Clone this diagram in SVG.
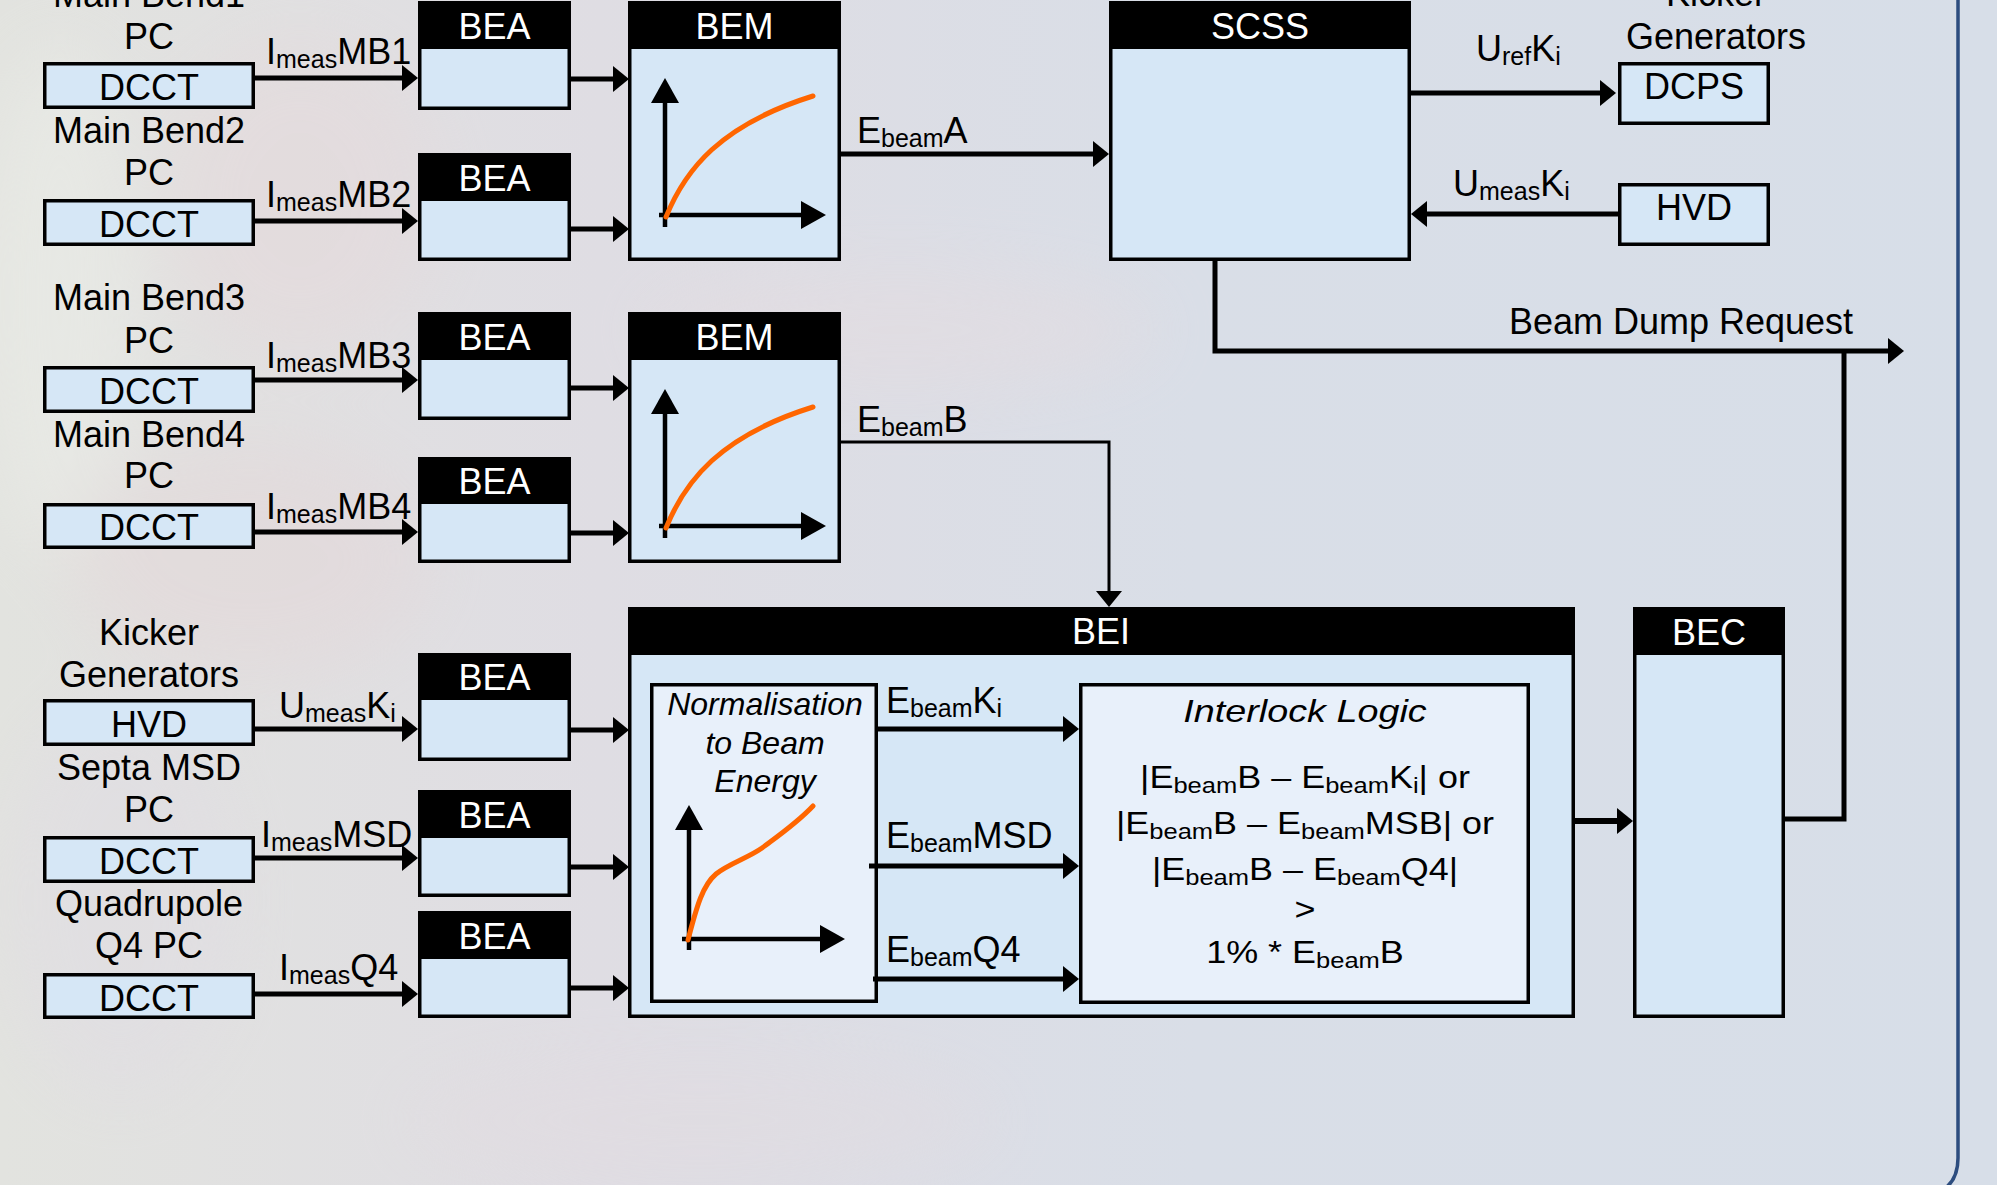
<svg xmlns="http://www.w3.org/2000/svg" width="1997" height="1185" viewBox="0 0 1997 1185">
<style>
text{font-family:"Liberation Sans",Arial,sans-serif;fill:#000}
.t{font-size:36px}
.c{text-anchor:middle}
.hd{fill:#fff;font-size:36px;text-anchor:middle}
.sub{font-size:25px}
.isub{font-size:22px}
.it{font-style:italic}
.box{fill:#d6e7f6;stroke:#000;stroke-width:3.5}
.inner{fill:#e8f0fa;stroke:#000;stroke-width:3.5}
.head{fill:#000}
.ax{fill:none;stroke:#000;stroke-width:4.5;marker-end:url(#ax)}
.curve{fill:none;stroke:#ff6600;stroke-width:5;stroke-linecap:round}
.cn{fill:none;stroke:#000;stroke-width:5;marker-end:url(#ah)}
.cn3{fill:none;stroke:#000;stroke-width:3;marker-end:url(#ah)}
.ln{fill:none;stroke:#000;stroke-width:5}
</style>
<defs>
<marker id="ah" viewBox="0 0 16 26" refX="6" refY="13" markerWidth="16" markerHeight="26" markerUnits="userSpaceOnUse" orient="auto"><path d="M0,0 L16,13 L0,26 z" fill="#000"/></marker>
<marker id="ax" viewBox="0 0 25 28" refX="10" refY="14" markerWidth="25" markerHeight="28" markerUnits="userSpaceOnUse" orient="auto"><path d="M0,0 L25,14 L0,28 z" fill="#000"/></marker>
<linearGradient id="bg" x1="0" x2="1" y1="0" y2="0">
<stop offset="0" stop-color="#e2e3df"/>
<stop offset="0.3" stop-color="#dfdde3"/>
<stop offset="0.6" stop-color="#d9dee7"/>
<stop offset="1" stop-color="#d7dee8"/>
</linearGradient>
<filter id="blur" x="-50%" y="-50%" width="200%" height="200%"><feGaussianBlur stdDeviation="35"/></filter>
</defs>

<rect width="1997" height="1185" fill="url(#bg)"/>
<g filter="url(#blur)" opacity="0.45">
<ellipse cx="60" cy="300" rx="80" ry="260" fill="#eef0ea"/>
<ellipse cx="300" cy="200" rx="140" ry="160" fill="#e6d8da"/>
<ellipse cx="250" cy="560" rx="180" ry="120" fill="#e4d6d8"/>
<ellipse cx="900" cy="330" rx="260" ry="60" fill="#e6dcdf"/>
<ellipse cx="120" cy="900" rx="120" ry="200" fill="#e0dce4"/>
<ellipse cx="700" cy="1120" rx="300" ry="60" fill="#e2dbe0"/>
</g>

<path d="M1958,0 V1158 Q1958,1186 1934,1194" fill="none" stroke="#2d4d7f" stroke-width="3.5"/>

<!-- left source labels -->
<g id="labels-left">
<text class="t c" x="149" y="7">Main Bend1</text>
<text class="t c" x="149" y="49">PC</text>
<text class="t c" x="149" y="143">Main Bend2</text>
<text class="t c" x="149" y="185">PC</text>
<text class="t c" x="149" y="310">Main Bend3</text>
<text class="t c" x="149" y="353">PC</text>
<text class="t c" x="149" y="447">Main Bend4</text>
<text class="t c" x="149" y="488">PC</text>
<text class="t c" x="149" y="645">Kicker</text>
<text class="t c" x="149" y="687">Generators</text>
<text class="t c" x="149" y="780">Septa MSD</text>
<text class="t c" x="149" y="822">PC</text>
<text class="t c" x="149" y="916">Quadrupole</text>
<text class="t c" x="149" y="958">Q4 PC</text>
<text class="t c" x="1716" y="6">Kicker</text>
<text class="t c" x="1716" y="49">Generators</text>
</g>

<!-- DCCT / HVD sensors -->
<g id="dcct1"><rect class="box" x="44.75" y="63.75" width="208.5" height="43.5"/><text class="t c" x="149" y="100">DCCT</text></g>
<g id="dcct2"><rect class="box" x="44.75" y="200.75" width="208.5" height="43.5"/><text class="t c" x="149" y="237">DCCT</text></g>
<g id="dcct3"><rect class="box" x="44.75" y="367.75" width="208.5" height="43.5"/><text class="t c" x="149" y="404">DCCT</text></g>
<g id="dcct4"><rect class="box" x="44.75" y="504.75" width="208.5" height="42.5"/><text class="t c" x="149" y="540">DCCT</text></g>
<g id="hvd-left"><rect class="box" x="44.75" y="700.75" width="208.5" height="43.5"/><text class="t c" x="149" y="737">HVD</text></g>
<g id="dcct-msd"><rect class="box" x="44.75" y="837.75" width="208.5" height="43.5"/><text class="t c" x="149" y="874">DCCT</text></g>
<g id="dcct-q4"><rect class="box" x="44.75" y="974.75" width="208.5" height="42.5"/><text class="t c" x="149" y="1011">DCCT</text></g>

<!-- BEA nodes -->
<g id="bea1"><rect class="box" x="419.75" y="2.75" width="149.5" height="105.5"/><rect class="head" x="418" y="1" width="153" height="48"/><text class="hd" x="494.5" y="39">BEA</text></g>
<g id="bea2"><rect class="box" x="419.75" y="154.75" width="149.5" height="104.5"/><rect class="head" x="418" y="153" width="153" height="48"/><text class="hd" x="494.5" y="191">BEA</text></g>
<g id="bea3"><rect class="box" x="419.75" y="313.75" width="149.5" height="104.5"/><rect class="head" x="418" y="312" width="153" height="48"/><text class="hd" x="494.5" y="350">BEA</text></g>
<g id="bea4"><rect class="box" x="419.75" y="458.75" width="149.5" height="102.5"/><rect class="head" x="418" y="457" width="153" height="47"/><text class="hd" x="494.5" y="494">BEA</text></g>
<g id="bea5"><rect class="box" x="419.75" y="654.75" width="149.5" height="104.5"/><rect class="head" x="418" y="653" width="153" height="47"/><text class="hd" x="494.5" y="690">BEA</text></g>
<g id="bea6"><rect class="box" x="419.75" y="791.75" width="149.5" height="103.5"/><rect class="head" x="418" y="790" width="153" height="48"/><text class="hd" x="494.5" y="828">BEA</text></g>
<g id="bea7"><rect class="box" x="419.75" y="912.75" width="149.5" height="103.5"/><rect class="head" x="418" y="911" width="153" height="48"/><text class="hd" x="494.5" y="949">BEA</text></g>

<!-- BEM nodes -->
<g id="bem1">
<rect class="box" x="629.75" y="2.75" width="209.5" height="256.5"/><rect class="head" x="628" y="1" width="213" height="48"/><text class="hd" x="734.5" y="39">BEM</text>
<path class="ax" d="M665,227 V93"/><path class="ax" d="M659,215 H811"/>
<path class="curve" d="M666,217 C685,170 720,125 813,96"/>
</g>
<g id="bem2">
<rect class="box" x="629.75" y="313.75" width="209.5" height="247.5"/><rect class="head" x="628" y="312" width="213" height="48"/><text class="hd" x="734.5" y="350">BEM</text>
<path class="ax" d="M665,538 V404"/><path class="ax" d="M659,526 H811"/>
<path class="curve" d="M666,528 C685,481 720,436 813,407"/>
</g>

<!-- SCSS -->
<g id="scss"><rect class="box" x="1110.75" y="2.75" width="298.5" height="256.5"/><rect class="head" x="1109" y="1" width="302" height="48"/><text class="hd" x="1260" y="39">SCSS</text></g>

<!-- Kicker generators right -->
<g id="dcps"><rect class="box" x="1619.75" y="63.75" width="148.5" height="59.5"/><text class="t c" x="1694" y="99">DCPS</text></g>
<g id="hvd-right"><rect class="box" x="1619.75" y="184.75" width="148.5" height="59.5"/><text class="t c" x="1694" y="220">HVD</text></g>

<!-- BEI -->
<g id="bei">
<rect class="box" x="629.75" y="608.75" width="943.5" height="407.5"/><rect class="head" x="628" y="607" width="947" height="48"/><text class="hd" x="1101" y="644">BEI</text>
</g>
<g id="normalisation">
<rect class="inner" x="651.75" y="684.75" width="224.5" height="316.5"/>
<text class="t c it" style="font-size:32px" x="765" y="715">Normalisation</text>
<text class="t c it" style="font-size:32px" x="765" y="754">to Beam</text>
<text class="t c it" style="font-size:32px" x="765" y="792">Energy</text>
<path class="ax" d="M689,950 V820"/><path class="ax" d="M682,939 H830"/>
<path class="curve" d="M688,940 C697,905 703,885 716,874 C728,864 748,858 762,848 C778,836 797,823 813,806"/>
</g>
<g id="interlock">
<rect class="inner" x="1080.75" y="684.75" width="447.5" height="317.5"/>
<text class="c it" style="font-size:32px" transform="matrix(1.18 0 0 1 1305 722)" x="0" y="0">Interlock Logic</text>
<text class="c" style="font-size:31px" transform="matrix(1.16 0 0 1 1305 788)" x="0" y="0">|E<tspan class="isub" dy="5">beam</tspan><tspan dy="-5">B – E</tspan><tspan class="isub" dy="5">beam</tspan><tspan dy="-5">K</tspan><tspan class="isub" dy="5">i</tspan><tspan dy="-5">| or</tspan></text>
<text class="c" style="font-size:31px" transform="matrix(1.16 0 0 1 1305 834)" x="0" y="0">|E<tspan class="isub" dy="5">beam</tspan><tspan dy="-5">B – E</tspan><tspan class="isub" dy="5">beam</tspan><tspan dy="-5">MSB| or</tspan></text>
<text class="c" style="font-size:31px" transform="matrix(1.16 0 0 1 1305 880)" x="0" y="0">|E<tspan class="isub" dy="5">beam</tspan><tspan dy="-5">B – E</tspan><tspan class="isub" dy="5">beam</tspan><tspan dy="-5">Q4|</tspan></text>
<text class="c" style="font-size:31px" transform="matrix(1.16 0 0 1 1305 920)" x="0" y="0">&gt;</text>
<text class="c" style="font-size:31px" transform="matrix(1.16 0 0 1 1305 963)" x="0" y="0">1% * E<tspan class="isub" dy="5">beam</tspan><tspan dy="-5">B</tspan></text>
</g>

<!-- BEC -->
<g id="bec"><rect class="box" x="1634.75" y="608.75" width="148.5" height="407.5"/><rect class="head" x="1633" y="607" width="152" height="48"/><text class="hd" x="1709" y="645">BEC</text></g>

<!-- connectors -->
<g id="connectors">
<path class="cn" d="M255,78 H408"/>
<path class="cn" d="M255,221 H408"/>
<path class="cn" d="M255,380 H408"/>
<path class="cn" d="M255,532 H408"/>
<path class="cn" d="M255,729 H408"/>
<path class="cn" d="M255,858 H408"/>
<path class="cn" d="M255,994 H408"/>
<path class="cn" d="M571,79 H619"/>
<path class="cn" d="M571,229 H619"/>
<path class="cn" d="M571,388 H619"/>
<path class="cn" d="M571,533 H619"/>
<path class="cn" d="M571,730 H619"/>
<path class="cn" d="M571,867 H619"/>
<path class="cn" d="M571,988 H619"/>
<path class="cn" d="M841,154 H1099"/>
<path class="cn3" d="M841,442 H1109 V597"/>
<path class="cn" d="M1410,93 H1606"/>
<path class="cn" d="M1618,214 H1421"/>
<path class="cn" d="M1215,261 V351 H1894"/>
<path class="ln" d="M1785,819 H1844 V349"/>
<path class="cn" style="stroke-width:6" d="M1575,821 H1623"/>
<path class="cn" d="M878,729 H1069"/>
<path class="cn" d="M869,866 H1069"/>
<path class="cn" d="M873,979 H1069"/>
</g>

<!-- connector labels -->
<g id="connector-labels">
<text class="t" x="266" y="64">I<tspan class="sub" dy="4">meas</tspan><tspan dy="-4">MB1</tspan></text>
<text class="t" x="266" y="207">I<tspan class="sub" dy="4">meas</tspan><tspan dy="-4">MB2</tspan></text>
<text class="t" x="266" y="368">I<tspan class="sub" dy="4">meas</tspan><tspan dy="-4">MB3</tspan></text>
<text class="t" x="266" y="519">I<tspan class="sub" dy="4">meas</tspan><tspan dy="-4">MB4</tspan></text>
<text class="t" x="279" y="718">U<tspan class="sub" dy="4">meas</tspan><tspan dy="-4">K</tspan><tspan class="sub" dy="4">i</tspan></text>
<text class="t" x="261" y="847">I<tspan class="sub" dy="4">meas</tspan><tspan dy="-4">MSD</tspan></text>
<text class="t" x="279" y="980">I<tspan class="sub" dy="4">meas</tspan><tspan dy="-4">Q4</tspan></text>
<text class="t" x="857" y="143">E<tspan class="sub" dy="4">beam</tspan><tspan dy="-4">A</tspan></text>
<text class="t" x="857" y="432">E<tspan class="sub" dy="4">beam</tspan><tspan dy="-4">B</tspan></text>
<text class="t" x="1476" y="61">U<tspan class="sub" dy="4">ref</tspan><tspan dy="-4">K</tspan><tspan class="sub" dy="4">i</tspan></text>
<text class="t" x="1453" y="196">U<tspan class="sub" dy="4">meas</tspan><tspan dy="-4">K</tspan><tspan class="sub" dy="4">i</tspan></text>
<text class="t c" x="1681" y="334">Beam Dump Request</text>
<text class="t" x="886" y="713">E<tspan class="sub" dy="4">beam</tspan><tspan dy="-4">K</tspan><tspan class="sub" dy="4">i</tspan></text>
<text class="t" x="886" y="848">E<tspan class="sub" dy="4">beam</tspan><tspan dy="-4">MSD</tspan></text>
<text class="t" x="886" y="962">E<tspan class="sub" dy="4">beam</tspan><tspan dy="-4">Q4</tspan></text>
</g>
</svg>
